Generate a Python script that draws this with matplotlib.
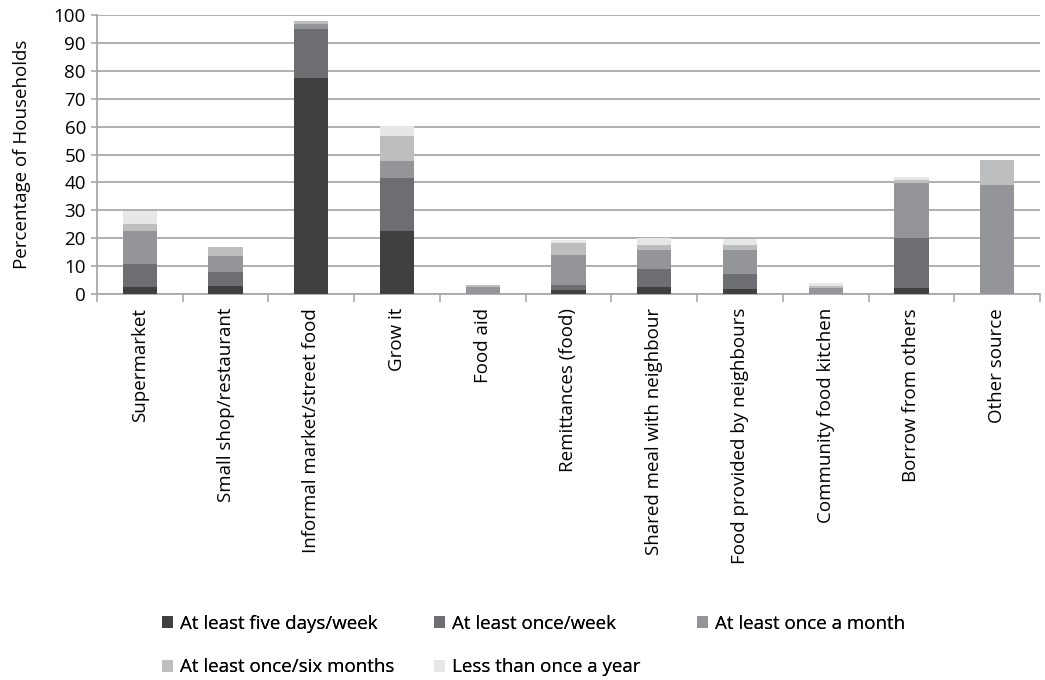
import matplotlib
matplotlib.use("Agg")
import matplotlib.pyplot as plt
import numpy as np

plt.rcParams['font.family'] = ['Open Sans', 'DejaVu Sans']

categories = ["Supermarket", "Small shop/restaurant", "Informal market/street food",
              "Grow it", "Food aid", "Remittances (food)", "Shared meal with neighbour",
              "Food provided by neighbours", "Community food kitchen",
              "Borrow from others", "Other source"]

five_days = [2.4, 3.0, 77.5, 22.7, 0.0, 1.6, 2.6, 1.9, 0.0, 2.3, 0.0]
once_week = [8.5, 5.0, 17.6, 19.0, 0.0, 1.7, 6.5, 5.4, 0.0, 17.9, 0.0]
once_month = [11.8, 5.7, 1.8, 6.1, 2.4, 10.8, 6.8, 8.6, 2.3, 19.7, 39.2]
six_months = [2.5, 3.3, 1.1, 9.0, 0.9, 4.3, 1.8, 1.8, 0.7, 1.1, 8.9]
less_year = [4.7, 0.0, 0.0, 3.5, 0.0, 1.1, 2.5, 2.1, 1.1, 1.1, 0.0]

series = [
    ("At least five days/week", five_days, "#404040"),
    ("At least once/week", once_week, "#6d6e71"),
    ("At least once a month", once_month, "#939598"),
    ("At least once/six months", six_months, "#bcbec0"),
    ("Less than once a year", less_year, "#e6e7e8"),
]

FS = 13.5

fig = plt.figure(figsize=(10.45, 6.8), dpi=100)
ax = fig.add_axes([97 / 1045, 1 - 294 / 680, (1040 - 97) / 1045, (294 - 15) / 680])

x = np.arange(len(categories))
bottom = np.zeros(len(categories))
bars = []
for label, vals, color in series:
    b = ax.bar(x, vals, 0.4, bottom=bottom, color=color, label=label, zorder=3)
    bars.append(b)
    bottom += np.array(vals)

ax.set_xlim(-0.5, len(categories) - 0.5)
ax.set_ylim(0, 100)
ax.set_yticks(range(0, 101, 10))
ax.yaxis.grid(True, color="#a7a9ac", linewidth=1.3, zorder=0)
ax.set_axisbelow(True)

ax.set_xticks(x)
ax.set_xticklabels(categories, rotation=90, fontsize=FS)
ax.set_xticks(np.arange(-0.5, len(categories)), minor=True)
ax.tick_params(axis="x", which="major", length=0, pad=10)
ax.tick_params(axis="x", which="minor", length=6, width=1.2, color="#a7a9ac")
ax.tick_params(axis="y", length=4, width=1.2, color="#a7a9ac", labelsize=FS, pad=4)

for s in ["top", "right"]:
    ax.spines[s].set_visible(False)
for s in ["left", "bottom"]:
    ax.spines[s].set_color("#a7a9ac")
    ax.spines[s].set_linewidth(1.3)

ax.set_ylabel("Percentage of Households", fontsize=FS, labelpad=16)

# legend: three columns placed like the original
columns = [([0, 3], 145), ([1, 4], 417), ([2], 680)]
for idx, xpix in columns:
    leg = fig.legend([bars[i] for i in idx], [series[i][0] for i in idx],
                     loc="upper left", bbox_to_anchor=(xpix / 1045, 1 - 598 / 680),
                     frameon=False, fontsize=FS, handlelength=0.6, handleheight=0.6,
                     handletextpad=0.35, labelspacing=1.35)
    fig.add_artist(leg)

fig.savefig("out.png", dpi=100)
